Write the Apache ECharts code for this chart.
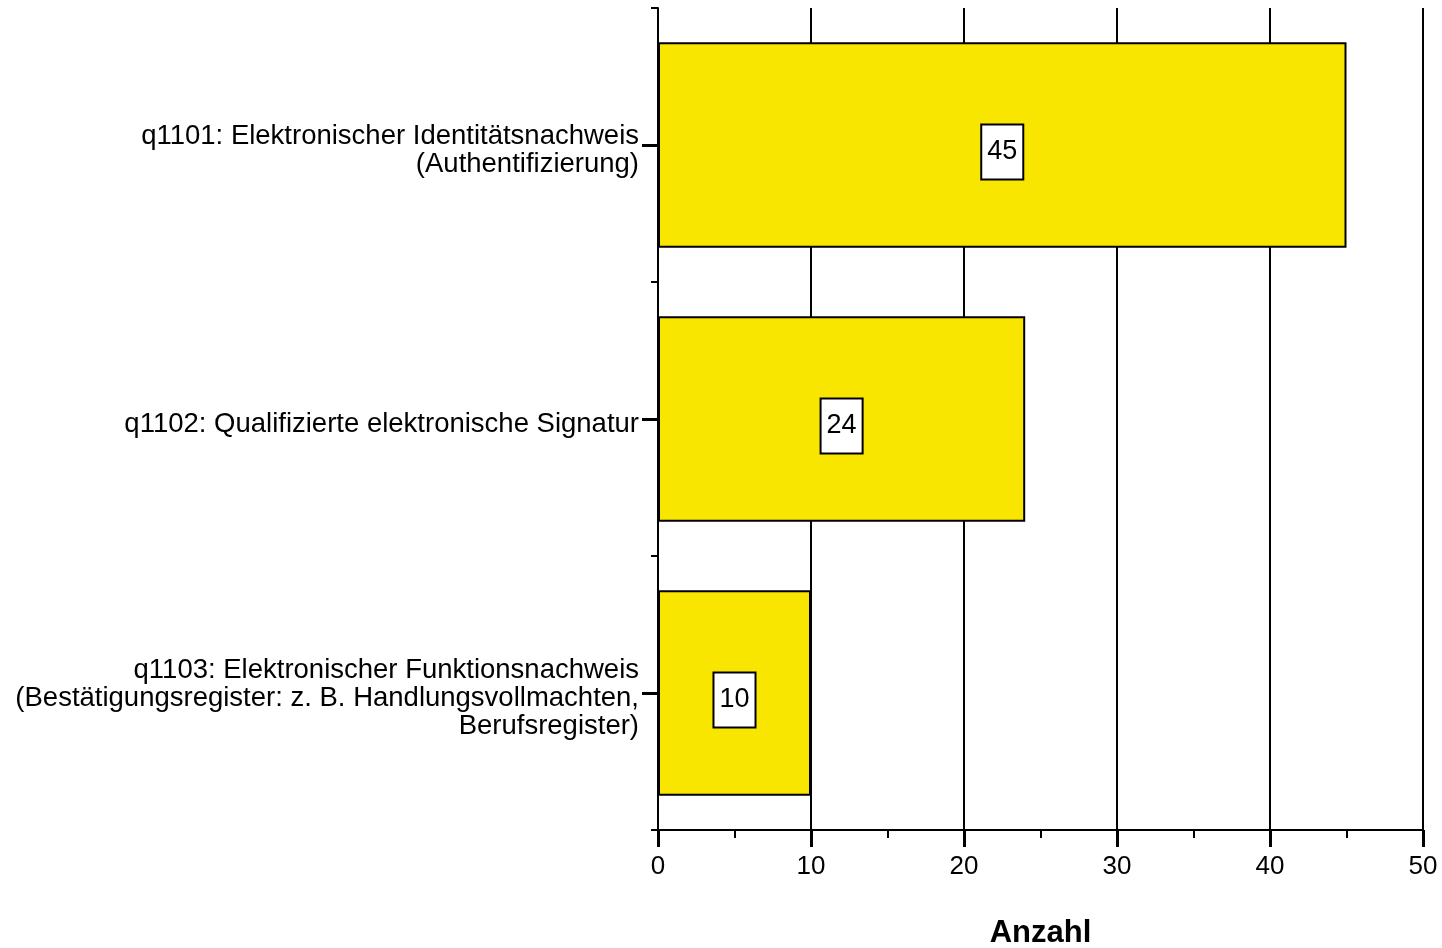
<!DOCTYPE html>
<html>
<head>
<meta charset="utf-8">
<script src="https://cdn.jsdelivr.net/npm/echarts@6/dist/echarts.min.js"></script>
<style>
  html, body { margin: 0; padding: 0; background: #fff; }
  #chart { width: 1442px; height: 948px; }
</style>
</head>
<body>
<div id="chart"></div>
<script>
var categories = [
  'q1101: Elektronischer Identitätsnachweis\n(Authentifizierung)',
  'q1102: Qualifizierte elektronische Signatur',
  'q1103: Elektronischer Funktionsnachweis\n(Bestätigungsregister: z. B. Handlungsvollmachten,\nBerufsregister)'
]
var counts = [45, 24, 10]
var xTicks = [0, 10, 20, 30, 40, 50]

var font = 'Liberation Sans, Arial, sans-serif'
var chartDom = document.getElementById('chart')
var myChart = echarts.init(chartDom)
var option = {
  animation: false,
  grid: { left: 658, right: 19, top: 8, bottom: 118, containLabel: false, outerBoundsMode: 'none' },
  xAxis: {
    type: 'value',
    min: xTicks[0],
    max: xTicks[xTicks.length - 1],
    interval: 10,
    name: 'Anzahl',
    nameLocation: 'middle',
    nameGap: 88,
    nameTextStyle: { color: '#000', fontFamily: font, fontSize: 31, fontWeight: 'bold' },
    axisLine: { show: true, lineStyle: { color: '#000', width: 2 } },
    axisTick: { show: true, length: 17, lineStyle: { color: '#000', width: 3 } },
    minorTick: { show: true, splitNumber: 2, length: 8, lineStyle: { color: '#000', width: 2 } },
    axisLabel: { color: '#000', fontFamily: font, fontSize: 26, margin: 24 },
    splitLine: { show: true, lineStyle: { color: '#000', width: 2 } }
  },
  yAxis: [
    {
      type: 'category',
      data: categories,
      inverse: true,
      axisLine: { show: true, lineStyle: { color: '#000', width: 2 } },
      axisTick: { show: true, alignWithLabel: true, length: 16, lineStyle: { color: '#000', width: 3 } },
      axisLabel: {
        color: '#000', fontFamily: font, margin: 19, align: 'right',
        // a thin blank first line pushes the text a few px below the tick, like the original
        formatter: function (val) {
          return '{s| }\n' + val.split('\n').map(function (l) { return '{t|' + l + '}' }).join('\n')
        },
        rich: {
          s: { fontSize: 1, lineHeight: 10 },
          t: { fontFamily: font, fontSize: 27.5, lineHeight: 28, color: '#000', align: 'right' }
        }
      },
      splitLine: { show: false }
    },
    {
      type: 'category',
      data: categories,
      inverse: true,
      position: 'left',
      axisLine: { show: false },
      axisTick: { show: true, length: 7, lineStyle: { color: '#000', width: 2 } },
      axisLabel: { show: false },
      splitLine: { show: false }
    }
  ],
  series: [
    {
      type: 'bar',
      data: counts,
      yAxisIndex: 0,
      barCategoryGap: '25%',
      itemStyle: { color: '#F8E600', borderColor: '#000', borderWidth: 2 },
      label: {
        show: true,
        position: 'inside',
        offset: [0, 7],
        color: '#000',
        fontFamily: font,
        fontSize: 27,
        lineHeight: 27,
        backgroundColor: '#fff',
        borderColor: '#000',
        borderWidth: 2,
        padding: [14, 5, 12, 5]
      }
    }
  ]
}
option && myChart.setOption(option)
</script>
</body>
</html>
